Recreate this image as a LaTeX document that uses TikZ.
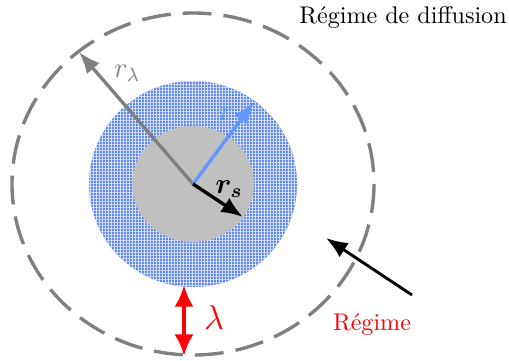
\documentclass[tikz,border=0pt]{standalone}
\usepackage{bm}
\usetikzlibrary{arrows.meta,patterns.meta}
\definecolor{dgray}{RGB}{128,128,128}
\definecolor{cgray}{RGB}{192,192,192}
\definecolor{pblue}{RGB}{95,135,242}
\definecolor{ablue}{RGB}{100,150,255}
\tikzset{
  ray/.style={line width=1.4pt,-{Latex[length=9pt,width=7pt]}},
  lbl/.style={inner sep=1pt},
}
\begin{document}
\begin{tikzpicture}[x=0.415pt,y=-0.415pt]
\useasboundingbox (0,0) rectangle (509,360);
\coordinate (c) at (193,184);
% blue pattern disk
\fill[pblue] (c) ellipse [x radius=104, y radius=103];
\fill[pattern={Lines[angle=0,distance=1.245pt,line width=0.4pt]},pattern color=white!75!pblue] (c) ellipse [x radius=104, y radius=103];
\fill[pattern={Lines[angle=90,distance=1.245pt,line width=0.4pt]},pattern color=white!75!pblue] (c) ellipse [x radius=104, y radius=103];
% gray core
\fill[cgray] (c) ellipse [x radius=61, y radius=58];
% dashed circle
\draw[dgray,line width=1.4pt,dash pattern=on 12pt off 5pt] (c) ellipse [x radius=181, y radius=171];
% rays
\coordinate (tl) at (79,52);
\coordinate (tb) at (254,102);
\coordinate (ts) at (243,217);
\draw[ray,dgray] (c) -- (tl);
\draw[ray,ablue] (c) -- (tb);
\draw[ray,black] (c) -- (ts);
\node[lbl,text=dgray] (lrl) at (127,73) {\large$r_\lambda$};
\node[lbl,text=ablue] (lrb) at (226,114) {\large$r$};
\node[lbl] (lrs) at (229,189) {\large$\bm{r_s}$};
% lambda
\coordinate (la) at (184,285);
\coordinate (lb) at (184,356);
\draw[red,line width=1.8pt,{Latex[length=9pt,width=8pt]}-{Latex[length=9pt,width=8pt]}] (la) -- (lb);
\node[lbl,text=red] (llam) at (214,317) {\Large$\lambda$};
% regime arrow
\coordinate (ra) at (412,295);
\coordinate (rb) at (326,238);
\draw[ray,black,line width=1.2pt] (ra) -- (rb);
\node[lbl,text=red] (reg) at (372,325) {Régime};
\node[lbl] (diff) at (403,17) {Régime de diffusion};
\end{tikzpicture}
\end{document}
